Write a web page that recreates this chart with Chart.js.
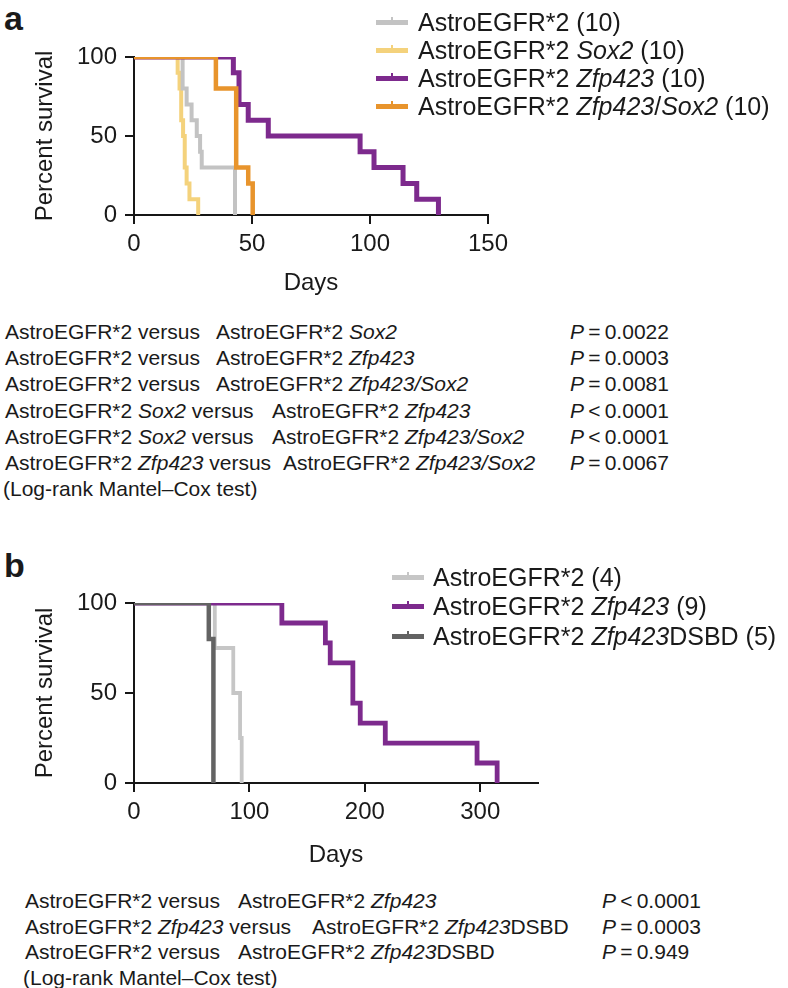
<!DOCTYPE html>
<html><head><meta charset="utf-8">
<script src="https://cdn.jsdelivr.net/npm/chart.js@4/dist/chart.umd.min.js"></script>
<style>
html,body{margin:0;padding:0;background:#fff;}
body{width:788px;height:988px;position:relative;overflow:hidden;font-family:"Liberation Sans",Arial,Helvetica,sans-serif;color:#1a1a1a;}
.abs{position:absolute;white-space:pre;}
.plabel{font-weight:bold;font-size:34px;line-height:34px;}
.leg{font-size:25px;line-height:25px;}
.tbl{font-size:21px;line-height:21px;}
.mk{position:absolute;height:5px;}
.mk span{position:absolute;left:50%;top:-3px;width:2px;height:6px;margin-left:-1px;}
canvas{position:absolute;}
</style></head><body>
<div class="abs plabel" style="left:4px;top:1px;">a</div>
<div class="abs plabel" style="left:4px;top:548px;">b</div>
<canvas id="chartA"></canvas>
<canvas id="chartB"></canvas>
<div id="overlay"></div>
<script>
const FONT = '"Liberation Sans", Arial, Helvetica, sans-serif';

// ---------- Panel a data ----------
const aXTicks = [0, 50, 100, 150];
const aYTicks = [0, 50, 100];
const aNames = ['AstroEGFR*2 (10)', 'AstroEGFR*2 <i>Sox2</i> (10)', 'AstroEGFR*2 <i>Zfp423</i> (10)', 'AstroEGFR*2 <i>Zfp423</i>/<i>Sox2</i> (10)'];
const aGrayDays   = [0, 20.6, 22.3, 24.4, 26.6, 28.0, 28.7, 42.8];
const aGraySurv   = [100, 80, 70, 60, 50, 40, 30, 0];
const aYellowDays = [0, 18.5, 19.3, 20.0, 20.8, 21.5, 22.3, 23.5, 27.2];
const aYellowSurv = [100, 90, 80, 60, 50, 30, 20, 10, 0];
const aPurpleDays = [0, 42.1, 44.5, 48.4, 56.9, 95.8, 101.7, 114.0, 119.8, 129.0];
const aPurpleSurv = [100, 90, 70, 60, 50, 40, 30, 20, 10, 0];
const aOrangeDays = [0, 34.7, 43.3, 48.4, 50.3];
const aOrangeSurv = [100, 80, 30, 20, 0];
const aTests = [
  ['AstroEGFR*2 versus', 'AstroEGFR*2 <i>Sox2</i>', 'P=0.0022'],
  ['AstroEGFR*2 versus', 'AstroEGFR*2 <i>Zfp423</i>', 'P=0.0003'],
  ['AstroEGFR*2 versus', 'AstroEGFR*2 <i>Zfp423/Sox2</i>', 'P=0.0081'],
  ['AstroEGFR*2 <i>Sox2</i> versus', 'AstroEGFR*2 <i>Zfp423</i>', 'P<0.0001'],
  ['AstroEGFR*2 <i>Sox2</i> versus', 'AstroEGFR*2 <i>Zfp423/Sox2</i>', 'P<0.0001'],
  ['AstroEGFR*2 <i>Zfp423</i> versus', 'AstroEGFR*2 <i>Zfp423/Sox2</i>', 'P=0.0067']
];

// ---------- Panel b data ----------
const bXTicks = [0, 100, 200, 300];
const bYTicks = [0, 50, 100];
const bNames = ['AstroEGFR*2 (4)', 'AstroEGFR*2 <i>Zfp423</i> (9)', 'AstroEGFR*2 <i>Zfp423</i>DSBD (5)'];
const bLightDays  = [0, 70.0, 86.0, 91.9, 93.3];
const bLightSurv  = [100, 75, 50, 25, 0];
const bPurpleDays = [0, 128.1, 165.8, 170.0, 189.6, 196.0, 217.7, 297.2, 314.6];
const bPurpleSurv = [100, 88.9, 77.8, 66.7, 44.4, 33.3, 22.2, 11.1, 0];
const bDarkDays   = [0, 64.8, 68.8];
const bDarkSurv   = [100, 80, 0];
const bTests = [
  ['AstroEGFR*2 versus', 'AstroEGFR*2 <i>Zfp423</i>', 'P<0.0001'],
  ['AstroEGFR*2 <i>Zfp423</i> versus', 'AstroEGFR*2 <i>Zfp423</i>DSBD', 'P=0.0003'],
  ['AstroEGFR*2 versus', 'AstroEGFR*2 <i>Zfp423</i>DSBD', 'P=0.949']
];
const testNote = '(Log-rank Mantel\u2013Cox test)';

const C = {gray:'#c3c3c3', yellow:'#f4d27c', purple:'#7d2a8d', orange:'#e8942c', lgray:'#c6c6c6', dgray:'#636363'};

function makeKM(id, cfg) {
  const c = document.getElementById(id);
  c.width = cfg.width; c.height = cfg.height;
  c.style.left = cfg.left + 'px'; c.style.top = cfg.top + 'px';
  c.style.width = cfg.width + 'px'; c.style.height = cfg.height + 'px';
  const ink = '#161616';
  const gridOpts = {drawOnChartArea:false, drawTicks:true, tickLength:9, tickWidth:2, tickColor:ink, color:ink, lineWidth:2};
  new Chart(c, {
    type: 'line',
    data: {datasets: cfg.series.map(s => ({
      data: s.days.map((d, i) => ({x: d, y: s.surv[i]})),
      borderColor: s.color, backgroundColor: s.color, borderWidth: s.w,
      stepped: true, pointRadius: 0, fill: false, order: s.order,
      borderCapStyle: 'butt', borderJoinStyle: 'miter'
    }))},
    options: {
      responsive: false, animation: false, devicePixelRatio: 1,
      layout: {padding: {left: 0, top: cfg.area.top - cfg.top, right: cfg.left + cfg.width - cfg.area.right, bottom: 0}},
      plugins: {legend: {display: false}, tooltip: {enabled: false}},
      scales: {
        x: {
          type: 'linear', min: 0, max: cfg.xMax,
          afterFit: s => { s.height = cfg.top + cfg.height - cfg.area.bottom; },
          afterBuildTicks: s => { s.ticks = cfg.xTicks.map(v => ({value: v})); },
          grid: gridOpts, border: {display: true, color: ink, width: 2},
          ticks: {padding: 6, color: '#1a1a1a', font: {size: 24, family: FONT}, maxRotation: 0, autoSkip: false},
          title: {display: true, text: 'Days', color: '#1a1a1a', font: {size: 24, family: FONT}, padding: {top: 0, bottom: cfg.xTitlePad}}
        },
        y: {
          type: 'linear', min: 0, max: 100,
          afterFit: s => { s.width = cfg.area.left - cfg.left; },
          afterBuildTicks: s => { s.ticks = cfg.yTicks.map(v => ({value: v})); },
          grid: gridOpts, border: {display: true, color: ink, width: 2},
          ticks: {padding: 8, color: '#1a1a1a', font: {size: 24, family: FONT}, autoSkip: false},
          title: {display: true, text: 'Percent survival', color: '#1a1a1a', font: {size: 24, family: FONT}, padding: {top: 31, bottom: 0}}
        }
      }
    }
  });
}

makeKM('chartA', {
  left: 0, top: 0, width: 620, height: 300,
  area: {left: 134, right: 488, top: 57, bottom: 215},
  xMax: 150, xTicks: aXTicks, yTicks: aYTicks, xTitlePad: 2.5,
  series: [
    {days: aGrayDays, surv: aGraySurv, color: C.gray, w: 4, order: 2},
    {days: aYellowDays, surv: aYellowSurv, color: C.yellow, w: 4, order: 3},
    {days: aPurpleDays, surv: aPurpleSurv, color: C.purple, w: 5, order: 1},
    {days: aOrangeDays, surv: aOrangeSurv, color: C.orange, w: 4.5, order: 0}
  ]
});
makeKM('chartB', {
  left: 0, top: 560, width: 620, height: 310,
  area: {left: 134, right: 538, top: 603, bottom: 783},
  xMax: 350, xTicks: bXTicks, yTicks: bYTicks, xTitlePad: 0.5,
  series: [
    {days: bLightDays, surv: bLightSurv, color: C.lgray, w: 3.8, order: 2},
    {days: bPurpleDays, surv: bPurpleSurv, color: C.purple, w: 4.8, order: 1},
    {days: bDarkDays, surv: bDarkSurv, color: C.dgray, w: 4.5, order: 0}
  ]
});

// ---------- legends & test tables (HTML text) ----------
const ov = document.getElementById('overlay');
function add(html, cls, left, top) {
  const d = document.createElement('div');
  d.className = 'abs ' + cls; d.style.left = left + 'px'; d.style.top = top + 'px';
  d.innerHTML = html; ov.appendChild(d); return d;
}
function legend(names, colors, mkLeft, textLeft, rows) {
  names.forEach((n, i) => {
    const m = document.createElement('div');
    m.className = 'mk'; m.style.left = mkLeft + 'px'; m.style.width = '32px';
    m.style.top = (rows[i] - 2.5) + 'px'; m.style.background = colors[i];
    const t = document.createElement('span'); t.style.background = colors[i]; m.appendChild(t);
    ov.appendChild(m);
    add(n, 'leg', textLeft, rows[i] - 12.5);
  });
}
legend(aNames, [C.gray, C.yellow, C.purple, C.orange], 376, 418, [22, 50, 78, 106]);
legend(bNames, [C.lgray, C.purple, C.dgray], 392, 433, [577, 606, 636]);

function pfmt(s) { return '<i>P</i>' + s.slice(1, 2).replace('=', '\u2009=\u2009').replace('<', '\u2009<\u2009') + s.slice(2); }
function table(rows, x1, x2cols, xp, centers, noteX) {
  rows.forEach((r, i) => {
    const y = centers[i] - 10.5;
    add(r[0], 'tbl', x1, y);
    add(r[1], 'tbl', x2cols[i], y);
    add(pfmt(r[2]), 'tbl', xp, y);
  });
  add(testNote, 'tbl', noteX, centers[rows.length] - 10.5);
}
table(aTests, 5, [216, 216, 216, 272, 272, 283], 570, [331, 357.3, 383.6, 410, 436.3, 462.6, 488], 3);
table(bTests, 25, [238, 312, 238], 602, [900, 926, 951, 977], 23);
</script>
</body></html>
